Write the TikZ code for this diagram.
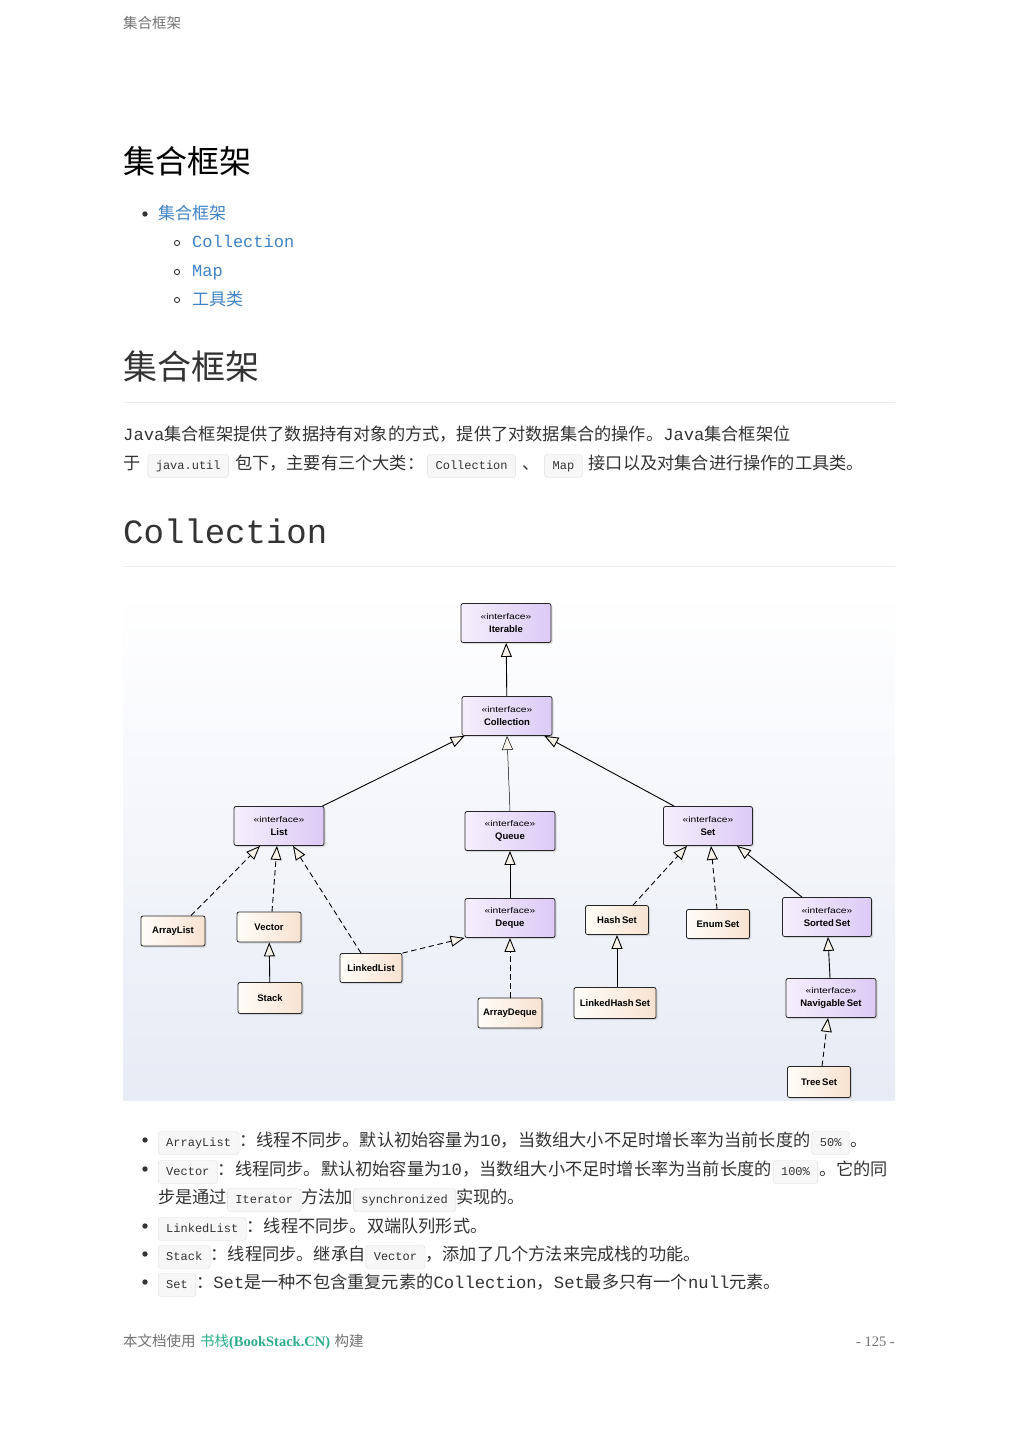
\documentclass[tikz,border=0pt]{standalone}
\usepackage{fontspec}
\setmainfont{Liberation Sans}
\newfontfamily\cjk{Noto Sans CJK SC}
\newfontfamily\mono{Liberation Mono}
\newfontfamily\serif{Liberation Serif}
\newfontfamily\stereofont[FakeStretch=1.25]{Liberation Sans}
\usetikzlibrary{arrows.meta,shadows,positioning}
\definecolor{ink}{HTML}{333333}
\definecolor{linkblue}{HTML}{4183C4}
\definecolor{rulegray}{HTML}{EEEEEE}
\definecolor{codebg}{HTML}{F7F7F7}
\definecolor{codeline}{HTML}{DDDDDD}
\definecolor{ifleft}{HTML}{F5EFFC}
\definecolor{ifright}{HTML}{DCCAF6}
\definecolor{clleft}{HTML}{FFFDF9}
\definecolor{clright}{HTML}{F8E2D0}
\definecolor{tipfill}{HTML}{F7F3E8}
\definecolor{bgbottom}{HTML}{E7EBF5}
\definecolor{bookgreen}{HTML}{2EAD8C}
\tikzset{txt/.style={inner sep=0pt,anchor=base west,text=ink},
 zh/.style={txt,font=\cjk\fontsize{17.2}{22}\selectfont},
 code/.style={draw=codeline,fill=codebg,rounded corners=3pt,anchor=base west,inner xsep=8pt,inner ysep=5pt,text height=10pt,text depth=3pt,text=ink,font=\mono\fontsize{12}{14}\selectfont},
 cls/.style={draw=black!85,line width=0.8pt,rounded corners=2pt,left color=clleft,right color=clright,minimum width=64pt,minimum height=30pt,inner sep=2pt,align=center,font=\bfseries\fontsize{9.5}{12.5}\selectfont,drop shadow={shadow xshift=1.5pt,shadow yshift=-1.5pt,opacity=0.25}},
 iface/.style={cls,left color=ifleft,right color=ifright,minimum width=90pt,minimum height=39pt},
 gen/.style={-{Triangle[length=14pt,width=11pt,fill=tipfill]},line width=0.9pt},
 real/.style={gen,dash pattern=on 5.5pt off 3.5pt}}
\newcommand{\stereo}[1]{{\stereofont\mdseries\fontsize{8.2}{12.5}\selectfont «interface»}\\#1}

\begin{document}
\begin{tikzpicture}[x=1pt,y=-1pt]
\fill[white](0,0)rectangle(1019,1440);
\useasboundingbox(0,0)rectangle(1019,1440);
% page head and contents
\node[txt,text=black!55,font=\cjk\fontsize{14.5}{17}\selectfont](runhead) at(123,28.5){集合框架};
\node[txt,text=black,font=\cjk\fontsize{32}{38}\selectfont](title) at(123,173){集合框架};
\fill[ink](145,214)circle(2.7);
\node[txt,text=linkblue,font=\cjk\fontsize{17}{20}\selectfont](toc1) at(158,219.5){集合框架};
\foreach \y in {243,272,300}\draw[ink,line width=0.9pt](177,\y)circle(2.6);
\node[txt,text=linkblue,font=\mono\fontsize{17}{20}\selectfont](toc2) at(192,247.5){Collection};
\node[txt,text=linkblue,font=\mono\fontsize{17}{20}\selectfont](toc3) at(192,276.5){Map};
\node[txt,text=linkblue,font=\cjk\fontsize{17}{20}\selectfont](toc4) at(192,305.5){工具类};
\node[txt,font=\cjk\fontsize{34}{40}\selectfont](sec) at(123,379){集合框架};
\draw[rulegray,line width=1pt](123,402)--(895,402);
\node[zh](para1) at(123,440.5){{\mono Java}集合框架提供了数据持有对象的方式，提供了对数据集合的操作。{\mono Java}集合框架位};
\node[zh](para2a) at(123,469.5){于};
\node[code](c1) at([xshift=7pt]para2a.base east){java.util};
\node[zh](para2b) at([xshift=6pt]c1.base east){包下，主要有三个大类：};
\node[code](c2) at([xshift=3pt]para2b.base east){Collection};
\node[zh](para2c) at([xshift=6pt]c2.base east){、};
\node[code](c3) at([xshift=5pt]para2c.base east){Map};
\node[zh](para2d) at([xshift=6pt]c3.base east){接口以及对集合进行操作的工具类。};
\node[txt,font=\mono\fontsize{34}{40}\selectfont](sec2) at(123,543){Collection};
\draw[rulegray,line width=1pt](123,566)--(895,566);
% class diagram
\shade[top color=white,bottom color=bgbottom](123,590)rectangle(895,1100);
\node[iface](iter) at(506,623){\stereo{Iterable}};
\node[iface](coll) at(507,716){\stereo{Collection}};
\node[iface](list) at(279,826){\stereo{List}};
\node[iface](queue) at(510,831){\stereo{Queue}};
\node[iface,minimum width=89pt](set) at(708,826){\stereo{Set}};
\node[cls](alist) at(173,931){ArrayList};
\node[cls](vector) at(269,927){Vector};
\node[cls,minimum height=31pt](stack) at(270,998){Stack};
\node[cls,minimum width=62pt,minimum height=29pt](llist) at(371,968){LinkedList};
\node[iface](deque) at(510,918){\stereo{Deque}};
\node[cls](adeque) at(510,1013){ArrayDeque};
\node[cls,minimum width=63pt,minimum height=29pt](hset) at(617,920){Hash\,Set};
\node[cls,minimum width=82pt,minimum height=31pt](lhset) at(615,1003){LinkedHash\,Set};
\node[cls,minimum width=63pt,minimum height=29pt](eset) at(718,924){Enum\,Set};
\node[iface,minimum width=89pt](sset) at(827,917){\stereo{Sorted\,Set}};
\node[iface](nset) at(831,998){\stereo{Navigable\,Set}};
\node[cls,minimum width=63pt,minimum height=31pt](tset) at(819,1082){Tree\,Set};
\draw[gen](coll)--(iter);
\draw[gen]([xshift=-2pt]list.north east)--([xshift=3pt]coll.south west);
\draw[gen,line width=0.5pt](queue.north)--(coll.south);
\draw[gen]([xshift=11pt]set.north west)--([xshift=-8pt]coll.south east);
\draw[real]([xshift=18pt]alist.north)--([xshift=-19pt]list.south);
\draw[real]([xshift=3pt]vector.north)--([xshift=-2pt]list.south);
\draw[real]([xshift=-10pt]llist.north)--([xshift=14pt]list.south);
\draw[real](llist.north east)--(deque.south west);
\draw[gen](stack)--(vector);
\draw[gen](deque)--(queue);
\draw[real](adeque)--(deque);
\draw[real]([xshift=16pt]hset.north)--([xshift=-21pt]set.south);
\draw[real]([xshift=-1pt]eset.north)--([xshift=3pt]set.south);
\draw[gen]([xshift=-25pt]sset.north)--([xshift=29pt]set.south);
\draw[gen]([xshift=2pt]lhset.north)--(hset.south);
\draw[gen](nset)--(sset);
\draw[real]([xshift=3pt]tset.north)--([xshift=-3pt]nset.south);
% notes below
\foreach \y in {1140,1169,1226,1254,1282}\fill[ink](145,\y)circle(2.7);
\node[code](n1) at(158,1146.5){ArrayList};
\node[zh](n1a) at(n1.base east){：线程不同步。默认初始容量为{\mono 10}，当数组大小不足时增长率为当前长度的};
\node[code](n1b) at([xshift=1pt]n1a.base east){50\%};
\node[zh](n1c) at([xshift=1pt]n1b.base east){。};
\node[code](n2) at(158,1175.5){Vector};
\node[zh](n2a) at(n2.base east){：线程同步。默认初始容量为{\mono 10}，当数组大小不足时增长率为当前长度的};
\node[code](n2b) at([xshift=1pt]n2a.base east){100\%};
\node[zh](n2c) at([xshift=1pt]n2b.base east){。它的同};
\node[zh](n3) at(158,1203.5){步是通过};
\node[code](n3a) at(n3.base east){Iterator};
\node[zh](n3b) at(n3a.base east){方法加};
\node[code](n3c) at(n3b.base east){synchronized};
\node[zh](n3d) at(n3c.base east){实现的。};
\node[code](n4) at(158,1232.5){LinkedList};
\node[zh](n4a) at(n4.base east){：线程不同步。双端队列形式。};
\node[code](n5) at(158,1260.5){Stack};
\node[zh](n5a) at(n5.base east){：线程同步。继承自};
\node[code](n5b) at(n5a.base east){Vector};
\node[zh](n5c) at(n5b.base east){，添加了几个方法来完成栈的功能。};
\node[code](n6) at(158,1288.5){Set};
\node[zh](n6a) at(n6.base east){：{\mono Set}是一种不包含重复元素的{\mono Collection}，{\mono Set}最多只有一个{\mono null}元素。};
% footer
\node[txt,text=black!55,font=\cjk\fontsize{14.5}{17}\selectfont](foot1) at(123,1346.5){本文档使用};
\node[txt,text=bookgreen,font=\cjk\fontsize{14.5}{17}\selectfont](foot2) at([xshift=4pt]foot1.base east){书栈{\serif\bfseries (BookStack.CN)}};
\node[txt,text=black!55,font=\cjk\fontsize{14.5}{17}\selectfont](foot3) at([xshift=4pt]foot2.base east){构建};
\node[txt,anchor=base east,text=black!55,font=\serif\fontsize{14.5}{17}\selectfont](pageno) at(895,1346.5){- 125 -};
\end{tikzpicture}
\end{document}
